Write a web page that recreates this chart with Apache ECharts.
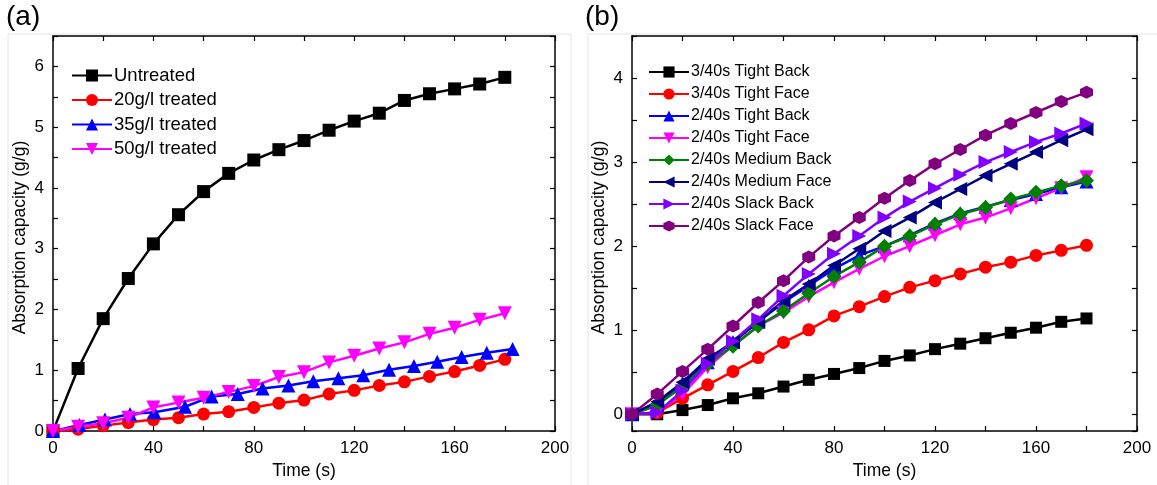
<!DOCTYPE html>
<html>
<head>
<meta charset="utf-8">
<script src="https://cdn.jsdelivr.net/npm/echarts@6/dist/echarts.min.js"></script>
<style>
html,body{margin:0;padding:0;background:#fff;}
#chart{width:1157px;height:485px;}
</style>
</head>
<body>
<div id="chart"></div>
<script>
// ---------- Panel (a) data ----------
const panelLabelA = '(a)';
const panelLabelB = '(b)';
const xNameA = 'Time (s)';
const yNameA = 'Absorption capacity (g/g)';
const xTickLabels = [0, 40, 80, 120, 160, 200];
const yTickLabelsA = [0, 1, 2, 3, 4, 5, 6];
const yTickLabelsB = [0, 1, 2, 3, 4];

const namesA = ['Untreated', '20g/l treated', '35g/l treated', '50g/l treated'];
const timeA = [0, 10, 20, 30, 40, 50, 60, 70, 80, 90, 100, 110, 120, 130, 140, 150, 160, 170, 180];
const time35 = [0, 10.5, 20.7, 30.7, 40.4, 52.6, 63.2, 73.6, 83.5, 93.8, 103.7, 113.7, 123.6, 133.9, 143.8, 153.1, 162.8, 172.8, 183.1];
const untreated = [0, 1.03, 1.85, 2.51, 3.08, 3.56, 3.94, 4.24, 4.46, 4.63, 4.78, 4.95, 5.10, 5.23, 5.44, 5.55, 5.63, 5.71, 5.82];
const treated20 = [0, 0.03, 0.09, 0.14, 0.19, 0.22, 0.28, 0.32, 0.39, 0.46, 0.51, 0.61, 0.67, 0.75, 0.81, 0.90, 0.98, 1.08, 1.18];
const treated35 = [0, 0.10, 0.19, 0.28, 0.31, 0.40, 0.57, 0.61, 0.70, 0.75, 0.82, 0.87, 0.92, 1.01, 1.07, 1.14, 1.22, 1.29, 1.35];
const treated50 = [0, 0.07, 0.13, 0.22, 0.39, 0.47, 0.55, 0.645, 0.74, 0.89, 0.97, 1.13, 1.24, 1.36, 1.46, 1.60, 1.70, 1.83, 1.94];

// ---------- Panel (b) data ----------
const namesB = ['3/40s Tight Back', '3/40s Tight Face', '2/40s Tight Back', '2/40s Tight Face',
  '2/40s Medium Back', '2/40s Medium Face', '2/40s Slack Back', '2/40s Slack Face'];
const timeB = [0, 10, 20, 30, 40, 50, 60, 70, 80, 90, 100, 110, 120, 130, 140, 150, 160, 170, 180];
const tightBack3 = [0, 0.0, 0.05, 0.11, 0.19, 0.25, 0.33, 0.41, 0.48, 0.55, 0.635, 0.70, 0.775, 0.84, 0.905, 0.97, 1.03, 1.10, 1.14];
const tightFace3 = [0, 0.02, 0.19, 0.35, 0.51, 0.675, 0.855, 1.005, 1.17, 1.28, 1.40, 1.51, 1.59, 1.67, 1.75, 1.81, 1.89, 1.95, 2.01];
const tightBack2 = [0, 0.11, 0.37, 0.62, 0.86, 1.10, 1.33, 1.53, 1.73, 1.89, 2.00, 2.13, 2.27, 2.39, 2.47, 2.55, 2.62, 2.70, 2.77];
const tightFace2 = [0, 0.02, 0.24, 0.56, 0.82, 1.05, 1.21, 1.40, 1.57, 1.73, 1.88, 2.00, 2.13, 2.26, 2.34, 2.45, 2.57, 2.69, 2.82];
const mediumBack2 = [0, 0.11, 0.33, 0.60, 0.81, 1.05, 1.23, 1.44, 1.64, 1.81, 2.00, 2.12, 2.26, 2.38, 2.46, 2.56, 2.64, 2.72, 2.78];
const mediumFace2 = [0, 0.15, 0.38, 0.66, 0.86, 1.10, 1.35, 1.55, 1.77, 1.97, 2.18, 2.34, 2.52, 2.68, 2.84, 2.98, 3.12, 3.26, 3.39];
const slackBack2 = [0, 0.02, 0.28, 0.60, 0.87, 1.13, 1.41, 1.67, 1.91, 2.12, 2.34, 2.53, 2.69, 2.85, 3.00, 3.12, 3.24, 3.34, 3.46];
const slackFace2 = [0, 0.24, 0.51, 0.775, 1.05, 1.33, 1.59, 1.87, 2.12, 2.34, 2.57, 2.78, 2.98, 3.15, 3.32, 3.46, 3.59, 3.72, 3.83];

const pairs = (xs, ys) => xs.map((x, i) => [x, ys[i]]);
const FONT = '"Liberation Sans", Arial, sans-serif';
const HEX = 'path://M0,-1L0.866,-0.5L0.866,0.5L0,1L-0.866,0.5L-0.866,-0.5Z';
const isInt = v => Math.abs(v - Math.round(v)) < 1e-6;

function xAxisDef(grid, top) {
  return {
    type: 'value', gridIndex: grid, min: 0, max: 200, interval: 20,
    position: top ? 'top' : 'bottom',
    name: top ? '' : xNameA, nameLocation: 'middle', nameGap: 26,
    nameTextStyle: { fontFamily: FONT, fontSize: 17.5, color: '#000' },
    axisLine: { show: true, onZero: false, lineStyle: { color: '#000', width: 1.5 } },
    axisTick: { show: true, inside: true, length: 5, lineStyle: { color: '#000', width: 1.2 } },
    axisLabel: {
      show: !top, fontFamily: FONT, fontSize: 17, color: '#000', margin: 9,
      formatter: v => (isInt(v) && xTickLabels.includes(Math.round(v))) ? String(Math.round(v)) : ''
    },
    splitLine: { show: false }
  };
}
function yAxisDef(grid, right, min, max, labels, fixedInterval) {
  const ax = {
    type: 'value', gridIndex: grid, min: min, max: max,
    position: right ? 'right' : 'left',
    name: right ? '' : yNameA, nameLocation: 'middle', nameGap: 24, nameRotate: 90,
    nameTextStyle: { fontFamily: FONT, fontSize: 17.5, color: '#000', padding: [0, 8, 0, 0] },
    axisLine: { show: true, onZero: false, lineStyle: { color: '#000', width: 1.5 } },
    axisTick: { show: true, inside: true, length: 5, lineStyle: { color: '#000', width: 1.2 } },
    axisLabel: {
      show: !right, fontFamily: FONT, fontSize: 17, color: '#000', margin: 9,
      showMinLabel: true, showMaxLabel: true,
      formatter: v => (isInt(v) && labels.includes(Math.round(v))) ? String(Math.round(v)) : ''
    },
    splitLine: { show: false }
  };
  if (fixedInterval) { ax.interval = 0.5; } else { ax.splitNumber = 9; }
  return ax;
}

function lineSeries(name, data, color, symbol, size, xi, yi, rotate) {
  return {
    name: name, type: 'line', data: data, xAxisIndex: xi, yAxisIndex: yi,
    symbol: symbol, symbolSize: size, symbolRotate: rotate || 0, showAllSymbol: true,
    lineStyle: { color: color, width: 2.5 },
    itemStyle: { color: color, borderWidth: 0 },
    emphasis: { disabled: true }, animation: false
  };
}

const option = {
  animation: false,
  backgroundColor: '#fff',
  graphic: [
    { type: 'rect', shape: { x: 8, y: 34, width: 563, height: 460 }, style: { fill: 'none', stroke: '#e4e4e4', lineWidth: 1 }, silent: true },
    { type: 'rect', shape: { x: 588, y: 34, width: 580, height: 460 }, style: { fill: 'none', stroke: '#e4e4e4', lineWidth: 1 }, silent: true },
    { type: 'text', left: 6, top: 3, style: { text: panelLabelA, fontFamily: FONT, fontSize: 28, fill: '#000' } },
    { type: 'text', left: 585, top: 3, style: { text: panelLabelB, fontFamily: FONT, fontSize: 28, fill: '#000' } }
  ],
  grid: [
    { left: 53, top: 36, width: 502, height: 396, containLabel: false },
    { left: 632, top: 36, width: 505, height: 397, containLabel: false }
  ],
  xAxis: [xAxisDef(0, false), xAxisDef(0, true), xAxisDef(1, false), xAxisDef(1, true)],
  yAxis: [
    yAxisDef(0, false, 0, 6.5, yTickLabelsA, true), yAxisDef(0, true, 0, 6.5, yTickLabelsA, true),
    yAxisDef(1, false, -0.2, 4.5, yTickLabelsB, false), yAxisDef(1, true, -0.2, 4.5, yTickLabelsB, false)
  ],
  legend: [
    {
      data: namesA, left: 66, top: 61, orient: 'vertical', itemWidth: 40, itemHeight: 15, itemGap: 5.5,
      textStyle: { fontFamily: FONT, fontSize: 18.5, color: '#000', padding: [0, 0, 0, -3] },
      selectedMode: false
    },
    {
      data: namesB, left: 643, top: 59, orient: 'vertical', itemWidth: 40, itemHeight: 14, itemGap: 6,
      textStyle: { fontFamily: FONT, fontSize: 16, color: '#000', padding: [0, 0, 0, -3] },
      selectedMode: false
    }
  ],
  series: [
    lineSeries(namesA[0], pairs(timeA, untreated), '#000000', 'rect', 13, 0, 0),
    lineSeries(namesA[1], pairs(timeA, treated20), '#ff0000', 'circle', 13, 0, 0),
    lineSeries(namesA[2], pairs(time35, treated35), '#0000ff', 'triangle', 14, 0, 0),
    lineSeries(namesA[3], pairs(timeA, treated50), '#ff00ff', 'triangle', 14, 0, 0, 180),

    lineSeries(namesB[0], pairs(timeB, tightBack3), '#000000', 'rect', 12, 2, 2),
    lineSeries(namesB[1], pairs(timeB, tightFace3), '#ff0000', 'circle', 13, 2, 2),
    lineSeries(namesB[2], pairs(timeB, tightBack2), '#0000ff', 'triangle', 14, 2, 2),
    lineSeries(namesB[3], pairs(timeB, tightFace2), '#ff00ff', 'triangle', 14, 2, 2, 180),
    lineSeries(namesB[4], pairs(timeB, mediumBack2), '#008000', 'diamond', 15, 2, 2),
    lineSeries(namesB[5], pairs(timeB, mediumFace2), '#000080', 'triangle', 14, 2, 2, 90),
    lineSeries(namesB[6], pairs(timeB, slackBack2), '#8000ff', 'triangle', 14, 2, 2, -90),
    lineSeries(namesB[7], pairs(timeB, slackFace2), '#800080', HEX, 13, 2, 2)
  ]
};

const chart = echarts.init(document.getElementById('chart'), null, { renderer: 'canvas' });
chart.setOption(option);
</script>
</body>
</html>
